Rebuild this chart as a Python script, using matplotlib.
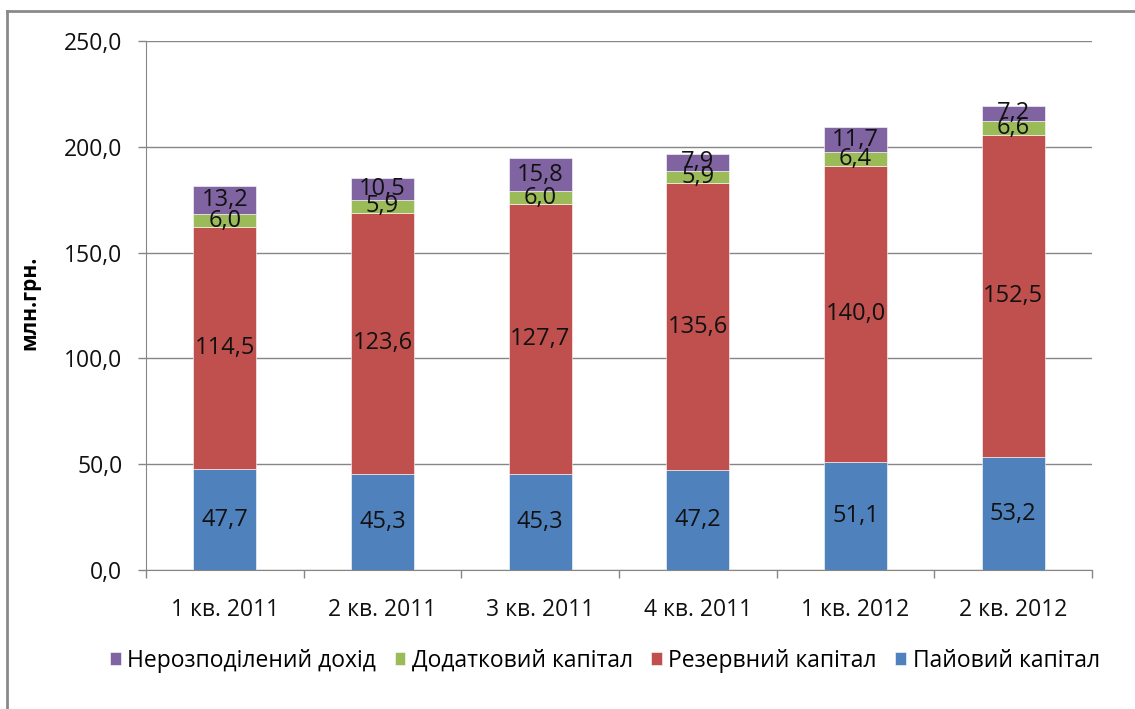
import matplotlib

matplotlib.use("Agg")
import matplotlib.pyplot as plt
import numpy as np

# values in млн.грн.
QUARTERS = ["1 кв. 2011", "2 кв. 2011", "3 кв. 2011", "4 кв. 2011", "1 кв. 2012", "2 кв. 2012"]
PAIOVYI = [47.7, 45.3, 45.3, 47.2, 51.1, 53.2]
REZERVNYI = [114.5, 123.6, 127.7, 135.6, 140.0, 152.5]
DODATKOVYI = [6.0, 5.9, 6.0, 5.9, 6.4, 6.6]
NEROZPODILENYI = [13.2, 10.5, 15.8, 7.9, 11.7, 7.2]
YTICKS = [0, 50, 100, 150, 200, 250]

SERIES = [("Пайовий капітал", PAIOVYI, "#4F81BD"),
          ("Резервний капітал", REZERVNYI, "#C0504D"),
          ("Додатковий капітал", DODATKOVYI, "#9BBB59"),
          ("Нерозподілений дохід", NEROZPODILENYI, "#8064A2")]


def fmt(v):
    return f"{v:.1f}".replace(".", ",")


plt.rcParams["font.family"] = ["Open Sans", "DejaVu Sans"]
fig = plt.figure(figsize=(11.35, 7.09), dpi=100)
ax = fig.add_axes([0.1286, 0.196, 0.8335, 0.746])

x = np.arange(len(QUARTERS))
bottom = np.zeros(len(QUARTERS))
handles = []
for name, vals, color in SERIES:
    vals = np.array(vals)
    bars = ax.bar(x, vals, 0.4, bottom=bottom, color=color, edgecolor="white",
                  linewidth=0.4, zorder=3, label=name)
    handles.append(bars)
    for xi, b, v in zip(x, bottom, vals):
        ax.text(xi, b + v / 2, fmt(v), ha="center", va="center", fontsize=17,
                color="#111111", zorder=4)
    bottom = bottom + vals

ax.set_xlim(-0.5, len(QUARTERS) - 0.5)
ax.set_ylim(0, 250)
ax.set_yticks(YTICKS)
ax.set_yticklabels([fmt(v) for v in YTICKS], fontsize=16.5, color="#111111")
ax.set_xticks(x)
ax.set_xticklabels(QUARTERS, fontsize=16.5, color="#111111")
ax.set_xticks(np.arange(len(QUARTERS) + 1) - 0.5, minor=True)
ax.tick_params(axis="x", which="major", length=0, pad=20)
ax.tick_params(axis="x", which="minor", length=6, color="#868686", width=1)
ax.tick_params(axis="y", length=6, color="#868686", width=1, pad=11)

ax.grid(axis="y", color="#868686", linewidth=1, zorder=0)
ax.set_axisbelow(True)
for s in ["top", "right"]:
    ax.spines[s].set_visible(False)
for s in ["left", "bottom"]:
    ax.spines[s].set_color("#868686")

ax.set_ylabel("млн.грн.", fontsize=15, fontweight="bold")
ax.yaxis.set_label_coords(-0.112, 0.505)

fig.legend(handles[::-1], [h.get_label() for h in handles[::-1]], loc="center",
           bbox_to_anchor=(0.533, 0.068), ncol=4, frameon=False, fontsize=16.5,
           handlelength=0.45, handleheight=0.45, handletextpad=0.3, columnspacing=0.8)

# outer chart border (left and top visible in the reference)
fig.add_artist(plt.Line2D([0.0065, 0.0065], [0, 0.985], color="#8a8a8a", lw=2,
                          transform=fig.transFigure))
fig.add_artist(plt.Line2D([0.0065, 1.0], [0.985, 0.985], color="#8a8a8a", lw=2,
                          transform=fig.transFigure))

fig.savefig("out.png", dpi=100, facecolor="white")
